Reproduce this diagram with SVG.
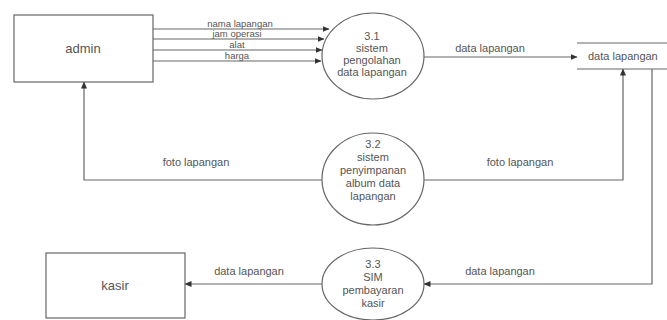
<svg xmlns="http://www.w3.org/2000/svg" width="667" height="320" viewBox="0 0 667 320">
<defs>
<marker id="arr" markerWidth="7" markerHeight="6" refX="6.5" refY="3" orient="auto" markerUnits="userSpaceOnUse">
<path d="M0,0 L7,3 L0,6 Z" fill="#333"/>
</marker>
<style>
.shape{fill:#fff;stroke:#666;stroke-width:1.2}
.flow{fill:none;stroke:#666;stroke-width:1.2;marker-end:url(#arr)}
.line{fill:none;stroke:#666;stroke-width:1.2}
text{font-family:"Liberation Sans",Arial,sans-serif;fill:#555;text-anchor:middle}
.ent{font-size:13px}
.lbl{font-size:11px}
.sm{font-size:9.5px}
.proc{font-size:11px}
.store{text-anchor:start;font-size:11px}
</style>
</defs>
<rect width="667" height="320" fill="#fff"/>

<g id="connectors">
<line class="flow" x1="153" y1="29" x2="329" y2="29"/>
<line class="flow" x1="153" y1="39" x2="324" y2="39"/>
<line class="flow" x1="153" y1="50" x2="322" y2="50"/>
<line class="flow" x1="153" y1="61" x2="321" y2="61"/>
<line class="flow" x1="424" y1="57" x2="577" y2="57"/>
<path class="flow" d="M322,180 H84 V82"/>
<path class="flow" d="M424,180 H623 V69"/>
<path class="flow" d="M652,69 V284 H424"/>
<path class="flow" d="M322,284 H185"/>
<text class="sm" x="240" y="26.5">nama lapangan</text>
<text class="sm" x="237" y="37">jam operasi</text>
<text class="sm" x="237" y="48">alat</text>
<text class="sm" x="237" y="59">harga</text>
<text class="lbl" x="490" y="52">data lapangan</text>
<text class="lbl" x="196" y="166">foto lapangan</text>
<text class="lbl" x="520" y="166">foto lapangan</text>
<text class="lbl" x="249" y="275">data lapangan</text>
<text class="lbl" x="500" y="275">data lapangan</text>
</g>

<g id="admin">
<rect class="shape" x="14" y="15" width="139" height="67"/>
<text class="ent" x="83" y="53">admin</text>
</g>

<g id="kasir">
<rect class="shape" x="46" y="253" width="139" height="65"/>
<text class="ent" x="115" y="290">kasir</text>
</g>

<g id="p31">
<ellipse class="shape" cx="373" cy="56" rx="51" ry="43"/>
<text class="proc" x="372" y="40">3.1</text>
<text class="proc" x="372" y="52">sistem</text>
<text class="proc" x="372" y="64">pengolahan</text>
<text class="proc" x="372" y="76">data lapangan</text>
</g>

<g id="p32">
<ellipse class="shape" cx="373" cy="179" rx="51" ry="46"/>
<text class="proc" x="373" y="148">3.2</text>
<text class="proc" x="373" y="161">sistem</text>
<text class="proc" x="373" y="174">penyimpanan</text>
<text class="proc" x="373" y="187">album data</text>
<text class="proc" x="373" y="200">lapangan</text>
</g>

<g id="p33">
<ellipse class="shape" cx="373" cy="284" rx="51" ry="36"/>
<text class="proc" x="373" y="268">3.3</text>
<text class="proc" x="373" y="281">SIM</text>
<text class="proc" x="373" y="294">pembayaran</text>
<text class="proc" x="373" y="307">kasir</text>
</g>

<g id="store">
<line class="line" x1="577" y1="43" x2="667" y2="43"/>
<line class="line" x1="577" y1="69" x2="667" y2="69"/>
<text class="store" x="588" y="60">data lapangan</text>
</g>
</svg>
